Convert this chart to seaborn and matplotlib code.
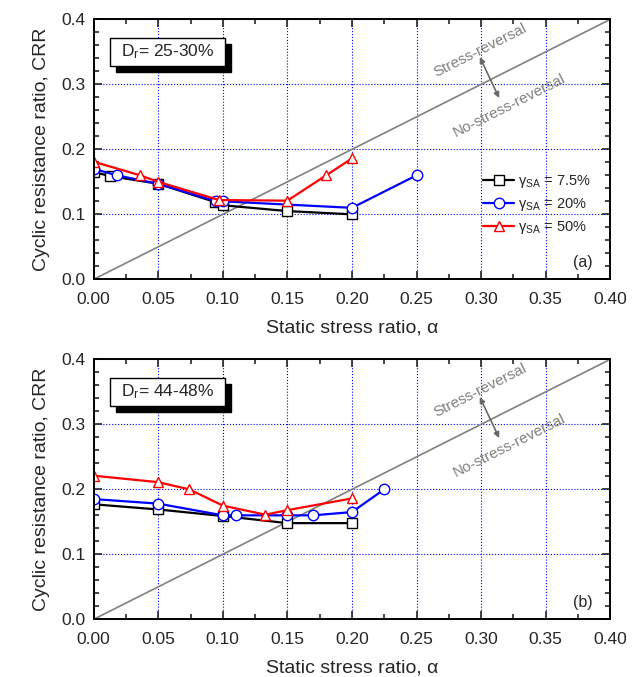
import matplotlib
matplotlib.use("Agg")
import matplotlib.pyplot as plt
import pandas as pd
import seaborn as sns
from matplotlib.patches import Rectangle
from matplotlib.ticker import MultipleLocator, FormatStrFormatter

# panel (a): Dr = 25-30%
a_x_75 = [0.0, 0.0126, 0.05, 0.094, 0.10, 0.15, 0.20]
a_y_75 = [0.165, 0.159, 0.147, 0.119, 0.114, 0.105, 0.100]
a_x_20 = [0.0, 0.018, 0.05, 0.095, 0.10, 0.20, 0.25]
a_y_20 = [0.170, 0.160, 0.147, 0.120, 0.120, 0.110, 0.160]
a_x_50 = [0.0, 0.036, 0.05, 0.097, 0.15, 0.18, 0.20]
a_y_50 = [0.181, 0.160, 0.150, 0.122, 0.121, 0.160, 0.186]

# panel (b): Dr = 44-48%
b_x_75 = [0.0, 0.05, 0.10, 0.15, 0.20]
b_y_75 = [0.177, 0.169, 0.159, 0.148, 0.148]
b_x_20 = [0.0, 0.05, 0.10, 0.11, 0.15, 0.17, 0.20, 0.225]
b_y_20 = [0.185, 0.178, 0.160, 0.160, 0.160, 0.160, 0.165, 0.200]
b_x_50 = [0.0, 0.05, 0.074, 0.10, 0.133, 0.15, 0.20]
b_y_50 = [0.221, 0.211, 0.200, 0.175, 0.161, 0.168, 0.186]

labels = ["γ$_{\\mathrm{SA}}$ = 7.5%", "γ$_{\\mathrm{SA}}$ = 20%", "γ$_{\\mathrm{SA}}$ = 50%"]
colors = ["black", "blue", "red"]
markers = ["s", "o", "^"]
one_to_one = [0.0, 0.4]

panels = [
    ("D$_\\mathrm{r}$= 25-30%", "(a)", [(a_x_75, a_y_75), (a_x_20, a_y_20), (a_x_50, a_y_50)]),
    ("D$_\\mathrm{r}$= 44-48%", "(b)", [(b_x_75, b_y_75), (b_x_20, b_y_20), (b_x_50, b_y_50)]),
]

sns.set_style("ticks")
plt.rcParams["font.family"] = ["Liberation Sans", "DejaVu Sans"]
plt.rcParams["mathtext.fontset"] = "custom"
plt.rcParams["mathtext.rm"] = "Liberation Sans"
plt.rcParams["mathtext.it"] = "Liberation Sans:italic"

fig = plt.figure(figsize=(6.37, 6.77), dpi=100)
ax_top = fig.add_axes([0.147, 0.5874, 0.811, 0.384])
ax_bot = fig.add_axes([0.147, 0.0852, 0.811, 0.384])

for ax, (dr_text, tag, series) in zip([ax_top, ax_bot], panels):
    sns.lineplot(x=one_to_one, y=one_to_one, ax=ax, color="gray", lw=1.2)
    for (xs, ys), lab, c, m in zip(series, labels, colors, markers):
        df = pd.DataFrame({"x": xs, "y": ys})
        sns.lineplot(data=df, x="x", y="y", ax=ax, color=c, marker=m,
                     markersize=7.5, mfc="white", mec=c, mew=1.0, lw=1.6,
                     estimator=None, sort=False, label=lab)

    ax.set_xlim(0, 0.4)
    ax.set_ylim(0, 0.4)
    ax.xaxis.set_major_locator(MultipleLocator(0.05))
    ax.xaxis.set_minor_locator(MultipleLocator(0.025))
    ax.yaxis.set_major_locator(MultipleLocator(0.1))
    ax.yaxis.set_minor_locator(MultipleLocator(0.02))
    ax.xaxis.set_major_formatter(FormatStrFormatter("%.2f"))
    ax.yaxis.set_major_formatter(FormatStrFormatter("%.1f"))
    ax.tick_params(which="both", direction="in", top=True, right=True,
                   labelsize=12.5, width=1.2)
    ax.tick_params(which="major", length=6)
    ax.tick_params(which="minor", length=3.5)
    ax.tick_params(axis="x", which="major", pad=9)
    ax.tick_params(axis="y", which="major", pad=6)
    ax.grid(True, which="major", color="blue", linestyle=":", lw=0.8)
    for sp in ax.spines.values():
        sp.set_linewidth(1.4)
        sp.set_color("black")
    ax.set_xlabel("Static stress ratio, α", fontsize=14, labelpad=9)
    ax.set_ylabel("Cyclic resistance ratio, CRR", fontsize=14, labelpad=8)

    # Dr box with shadow
    ax.add_patch(Rectangle((0.043, 0.798), 0.222, 0.108, transform=ax.transAxes,
                           facecolor="black", edgecolor="black", zorder=5, clip_on=False))
    ax.add_patch(Rectangle((0.032, 0.822), 0.222, 0.108, transform=ax.transAxes,
                           facecolor="white", edgecolor="black", lw=1.0, zorder=6, clip_on=False))
    ax.text(0.143, 0.876, dr_text, transform=ax.transAxes, ha="center", va="center",
            fontsize=12.5, zorder=7)

    ax.text(0.965, 0.065, tag, transform=ax.transAxes, ha="right", va="center", fontsize=11.5)

    # stress reversal annotation
    ax.text(0.299, 0.352, "Stress-reversal", color="gray", fontsize=11,
            rotation=45, transform_rotates_text=True, rotation_mode="anchor",
            ha="center", va="center")
    ax.text(0.322, 0.268, "No-stress-reversal", color="gray", fontsize=11,
            rotation=45, transform_rotates_text=True, rotation_mode="anchor",
            ha="center", va="center")
    ax.annotate("", xy=(0.299, 0.342), xytext=(0.314, 0.279),
                arrowprops=dict(arrowstyle="<|-|>", color="dimgray", lw=1.2,
                                mutation_scale=8, shrinkA=0, shrinkB=0))

ax_top.legend(loc="upper left", bbox_to_anchor=(0.729, 0.459), frameon=False,
              fontsize=10.5, handlelength=2.1, handletextpad=0.3, labelspacing=0.4)
ax_bot.get_legend().remove()

fig.savefig("out.png", dpi=100)
